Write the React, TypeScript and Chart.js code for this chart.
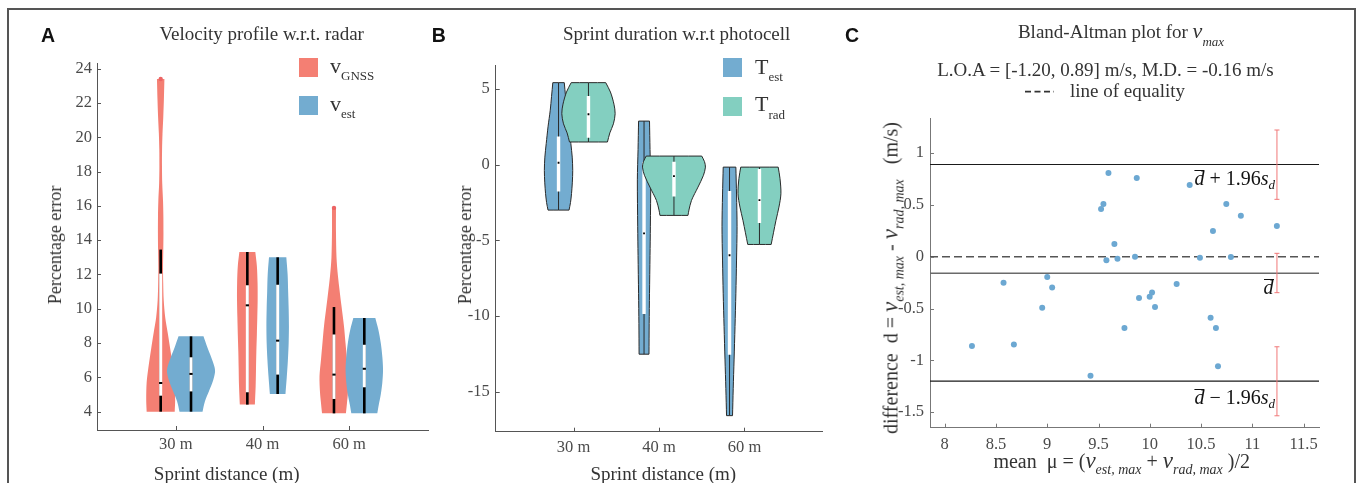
import React, { useEffect, useRef } from "react";
import { Chart, registerables } from "chart.js";

Chart.register(...registerables);

// ------------------------------------------------------------------ data
type Profile = [number, number][]; // [value, half-width in category units]
type Stats = [number, number, number, number, number]; // [low, q1, median, q3, high]

const distances = ["30 m", "40 m", "60 m"];
const categoryPositions = [1, 2, 3];
const violinOffset = 0.175;

// Panel A: velocity profile percentage error w.r.t. radar
const vGnssProfiles: Profile[] = [
  [[4.0, 0.162], [4.7, 0.167], [5.7, 0.162], [6.6, 0.141], [7.6, 0.112], [8.6, 0.081], [9.5, 0.052], [10.5, 0.035], [11.5, 0.029], [12.4, 0.027], [13.4, 0.03], [14.4, 0.032], [15.4, 0.031], [16.3, 0.027], [17.3, 0.018], [18.3, 0.015], [19.3, 0.016], [20.2, 0.021], [21.2, 0.03], [22.2, 0.037], [23.4, 0.043]],
  [[4.41, 0.087], [5.5, 0.096], [6.5, 0.1], [7.5, 0.104], [8.5, 0.11], [9.5, 0.115], [10.5, 0.119], [11.5, 0.118], [12.5, 0.11], [13.31, 0.092]],
  [[3.9, 0.138], [4.5, 0.15], [5.1, 0.161], [6.06, 0.167], [7.03, 0.15], [8.0, 0.133], [9.0, 0.115], [10.14, 0.087], [11.9, 0.046], [13.0, 0.029], [14.5, 0.023], [15.88, 0.023]],
];
const vGnssStats: Stats[] = [
  [4.0, 4.93, 5.67, 12.05, 13.45],
  [4.41, 5.13, 10.2, 11.37, 13.31],
  [3.9, 4.74, 6.16, 8.5, 10.1],
];
const vGnssOutliers: number[][] = [[23.4], [], [15.88]];

const vEstProfiles: Profile[] = [
  [[4.0, 0.133], [4.6, 0.161], [5.2, 0.208], [5.8, 0.254], [6.3, 0.277], [6.6, 0.271], [7.2, 0.231], [7.8, 0.185], [8.39, 0.144]],
  [[5.03, 0.09], [6.0, 0.105], [7.0, 0.118], [8.0, 0.127], [9.0, 0.13], [10.0, 0.127], [11.0, 0.121], [12.0, 0.115], [13.0, 0.1]],
  [[3.9, 0.15], [4.4, 0.167], [5.0, 0.19], [5.7, 0.208], [6.45, 0.216], [7.2, 0.208], [8.0, 0.19], [8.8, 0.161], [9.46, 0.127]],
];
const vEstStats: Stats[] = [
  [4.0, 5.18, 6.2, 7.17, 8.39],
  [5.03, 6.16, 8.14, 11.4, 13.0],
  [3.9, 5.42, 6.5, 7.9, 9.46],
];

// Panel B: sprint duration percentage error w.r.t. photocell
const tEstProfiles: Profile[] = [
  [[-3.0, 0.123], [-2.5, 0.14], [-1.9, 0.152], [-1.2, 0.161], [-0.38, 0.166], [0.5, 0.16], [1.4, 0.144], [2.5, 0.123], [3.6, 0.097], [4.5, 0.082], [5.42, 0.067]],
  [[-12.52, 0.058], [-10.5, 0.06], [-8.5, 0.064], [-6.0, 0.07], [-4.1, 0.074], [-1.0, 0.078], [1.0, 0.07], [2.88, 0.064]],
  [[-16.58, 0.035], [-14.8, 0.043], [-12.9, 0.053], [-10.7, 0.064], [-8.53, 0.074], [-6.3, 0.082], [-4.1, 0.088], [-2.0, 0.082], [-0.16, 0.074]],
];
const tEstStats: Stats[] = [
  [-3.0, -1.77, 0.13, 1.87, 5.42],
  [-12.52, -9.86, -4.54, 0.17, 2.88],
  [-16.58, -12.55, -5.98, -1.74, -0.16],
];
const tRadProfiles: Profile[] = [
  [[1.5, 0.222], [2.1, 0.25], [2.7, 0.292], [3.37, 0.312], [4.0, 0.298], [4.8, 0.257], [5.42, 0.202]],
  [[-3.35, 0.164], [-3.0, 0.175], [-2.36, 0.205], [-1.48, 0.281], [-0.7, 0.345], [-0.16, 0.368], [0.2, 0.357], [0.57, 0.325]],
  [[-5.27, 0.137], [-4.5, 0.164], [-3.68, 0.193], [-2.8, 0.228], [-1.92, 0.251], [-0.9, 0.24], [-0.16, 0.219]],
];
const tRadStats: Stats[] = [
  [1.5, 1.78, 3.33, 4.53, 5.42],
  [-3.35, -2.1, -0.75, 0.2, 0.57],
  [-5.27, -3.86, -2.34, -0.29, -0.16],
];

// Panel C: Bland-Altman for v_max
const baMean = [8.266, 8.574, 8.675, 8.951, 9.0, 9.048, 9.422, 9.525, 9.548, 9.577, 9.597, 9.655, 9.685, 9.753, 9.856, 9.873, 9.895, 9.999, 10.022, 10.051, 10.262, 10.389, 10.489, 10.593, 10.616, 10.645, 10.665, 10.746, 10.791, 10.888, 11.239];
const baDiff = [-0.862, -0.251, -0.846, -0.492, -0.196, -0.296, -1.149, 0.46, 0.509, -0.035, 0.808, 0.122, -0.019, -0.688, 0.0, 0.76, -0.399, -0.386, -0.344, -0.486, -0.264, 0.692, -0.01, -0.589, 0.248, -0.688, -1.058, 0.509, -0.003, 0.396, 0.296];
const meanDiff = -0.16;
const loaLower = -1.2;
const loaUpper = 0.89;
const ciX = 11.24;
const ciUpper = [0.554, 1.223];
const ciMean = [-0.347, 0.033];
const ciLower = [-1.535, -0.869];

// axes
const xRangeAB = [0.09, 3.91];
const yRangeA = [2.93, 24.33];
const yRangeB = [-17.64, 6.54];
const xRangeC = [7.857, 11.65];
const yRangeC = [-1.65, 1.336];
const yTicksA = [4, 6, 8, 10, 12, 14, 16, 18, 20, 22, 24];
const yTicksB = [-15, -10, -5, 0, 5];
const xTicksC = [8, 8.5, 9, 9.5, 10, 10.5, 11, 11.5];
const yTicksC = [-1.5, -1, -0.5, 0, 0.5, 1];

// ------------------------------------------------------------------ style
const SERIF = "'Liberation Serif', 'Times New Roman', Times, serif";
const SANS = "'Liberation Sans', Arial, Helvetica, sans-serif";
const TEXT = "#333333";
const TICK_TEXT = "#4a4a4a";
const RED = "rgb(244,127,115)";
const RED_DOT = "rgb(236,100,100)";
const BLUE = "rgb(115,172,208)";
const TEAL = "rgb(131,207,192)";
const DOT_BLUE = "rgb(108,168,210)";
const CI_RED = "rgb(240,120,120)";

// ------------------------------------------------------------------ helpers
function shape(center: number, profile: Profile) {
  const right = profile.map(([v, w]) => ({ x: center + w, y: v }));
  const left = [...profile].reverse().map(([v, w]) => ({ x: center - w, y: v }));
  return [...right, right[right.length - 1], left[0], ...left, left[left.length - 1], right[0]];
}

function violinGroup(center: number, profile: Profile, stats: Stats, outliers: number[], color: string, outlined: boolean) {
  const [lo, q1, med, q3, hi] = stats;
  const ds: any[] = [
    {
      data: shape(center, profile),
      backgroundColor: color,
      borderColor: outlined ? "#2a2a2a" : "rgba(0,0,0,0)",
      borderWidth: outlined ? 1 : 0,
      fill: "shape",
      tension: 0.3,
      pointRadius: 0,
    },
    {
      data: [{ x: center, y: lo }, { x: center, y: hi }],
      borderColor: outlined ? "#2a2a2a" : "#000",
      borderWidth: outlined ? 1 : 2.6,
      pointRadius: 0,
      fill: false,
    },
    {
      data: [{ x: center, y: q1 }, { x: center, y: q3 }],
      borderColor: "#fff",
      borderWidth: outlined ? 3.4 : 3,
      pointRadius: 0,
      fill: false,
    },
    {
      data: [{ x: center, y: med }],
      showLine: false,
      pointStyle: outlined ? "rect" : "line",
      pointRadius: outlined ? 1.3 : 1.6,
      pointBackgroundColor: "#000",
      pointBorderColor: "#000",
      pointBorderWidth: outlined ? 0 : 2,
    },
  ];
  if (outliers.length) {
    ds.push({
      data: outliers.map((v) => ({ x: center, y: v })),
      showLine: false,
      pointStyle: "circle",
      pointRadius: 2.2,
      pointBackgroundColor: RED_DOT,
      pointBorderWidth: 0,
    });
  }
  return ds;
}

function withOrder(ds: any[]) {
  return ds.map((d, i) => ({ ...d, order: ds.length - i }));
}

const inwardTicks = {
  id: "inwardTicks",
  afterDatasetsDraw(chart: any, _a: any, opts: any) {
    const { ctx, chartArea } = chart;
    const len = opts.length ?? 4;
    const xs = chart.scales.x;
    const ys = chart.scales.y;
    ctx.save();
    ctx.strokeStyle = opts.color ?? "#555";
    ctx.lineWidth = 1;
    ctx.beginPath();
    for (const t of ys.ticks) {
      const y = Math.round(ys.getPixelForValue(t.value)) + 0.5;
      ctx.moveTo(chartArea.left, y);
      ctx.lineTo(chartArea.left + len, y);
    }
    for (const t of xs.ticks) {
      const x = Math.round(xs.getPixelForValue(t.value)) + 0.5;
      ctx.moveTo(x, chartArea.bottom);
      ctx.lineTo(x, chartArea.bottom - len);
    }
    ctx.stroke();
    ctx.restore();
  },
};

const tickFont = { family: SERIF, size: 16.5 };

function makeOptions(p: {
  padding: { left: number; right: number; top: number; bottom: number };
  xRange: number[];
  yRange: number[];
  xTicks: number[];
  yTicks: number[];
  xLabel: (v: number) => string;
  axisColor: string;
  xPad: number;
  yPad: number;
}) {
  return {
    responsive: false,
    animation: false as const,
    devicePixelRatio: 1,
    events: [] as any[],
    layout: { padding: p.padding, autoPadding: false },
    elements: { point: { radius: 0, hoverRadius: 0 }, line: { tension: 0 } },
    plugins: {
      legend: { display: false },
      tooltip: { enabled: false },
      inwardTicks: { color: p.axisColor, length: 4 },
    },
    scales: {
      x: {
        type: "linear" as const,
        min: p.xRange[0],
        max: p.xRange[1],
        grid: { display: true, drawOnChartArea: false, drawTicks: false },
        border: { display: true, color: p.axisColor, width: 1 },
        ticks: {
          autoSkip: false,
          maxRotation: 0,
          padding: p.xPad,
          color: TICK_TEXT,
          font: tickFont,
          callback: (v: any) => p.xLabel(Number(v)),
        },
        afterBuildTicks: (s: any) => {
          s.ticks = p.xTicks.map((value) => ({ value }));
        },
        afterFit: (s: any) => {
          s.height = 30;
        },
      },
      y: {
        type: "linear" as const,
        min: p.yRange[0],
        max: p.yRange[1],
        grid: { display: true, drawOnChartArea: false, drawTicks: false },
        border: { display: true, color: p.axisColor, width: 1 },
        ticks: {
          padding: p.yPad,
          color: TICK_TEXT,
          font: tickFont,
          callback: (v: any) => String(v),
        },
        afterBuildTicks: (s: any) => {
          s.ticks = p.yTicks.map((value) => ({ value }));
        },
        afterFit: (s: any) => {
          s.width = 45;
        },
      },
    },
  };
}

const categoryLabel = (v: number) => {
  const i = categoryPositions.indexOf(v);
  return i >= 0 ? distances[i] : "";
};

function configA(): any {
  const ds: any[] = [];
  categoryPositions.forEach((c, i) => {
    ds.push(...violinGroup(c - violinOffset, vGnssProfiles[i], vGnssStats[i], vGnssOutliers[i], RED, false));
    ds.push(...violinGroup(c + violinOffset, vEstProfiles[i], vEstStats[i], [], BLUE, false));
  });
  return {
    type: "line",
    data: { datasets: withOrder(ds) },
    options: makeOptions({
      padding: { left: 52, right: 12, top: 63, bottom: 23 },
      xRange: xRangeAB,
      yRange: yRangeA,
      xTicks: categoryPositions,
      yTicks: yTicksA,
      xLabel: categoryLabel,
      axisColor: "#555",
      xPad: 5,
      yPad: 5,
    }),
    plugins: [inwardTicks],
  };
}

function configB(): any {
  const ds: any[] = [];
  categoryPositions.forEach((c, i) => {
    ds.push(...violinGroup(c - violinOffset, tEstProfiles[i], tEstStats[i], [], BLUE, true));
    ds.push(...violinGroup(c + violinOffset, tRadProfiles[i], tRadStats[i], [], TEAL, true));
  });
  return {
    type: "line",
    data: { datasets: withOrder(ds) },
    options: makeOptions({
      padding: { left: 10.7, right: 27.7, top: 65.7, bottom: 21.3 },
      xRange: xRangeAB,
      yRange: yRangeB,
      xTicks: categoryPositions,
      yTicks: yTicksB,
      xLabel: categoryLabel,
      axisColor: "#555",
      xPad: 6,
      yPad: 6,
    }),
    plugins: [inwardTicks],
  };
}

function hLine(y: number, color: string, width: number, dash: number[] = []) {
  return {
    data: [{ x: xRangeC[0], y }, { x: xRangeC[1], y }],
    borderColor: color,
    borderWidth: width,
    borderDash: dash,
    pointRadius: 0,
    fill: false,
  };
}

function ciBar(range: number[]) {
  return {
    data: [{ x: ciX, y: range[0] }, { x: ciX, y: range[1] }],
    borderColor: CI_RED,
    borderWidth: 1,
    pointStyle: "line",
    pointRadius: 2.5,
    pointBorderColor: CI_RED,
    pointBorderWidth: 1,
    fill: false,
  };
}

function configC(): any {
  const ds: any[] = [
    hLine(0, "#555", 1.4, [8, 4]),
    hLine(meanDiff, "#6a6a6a", 1.6),
    hLine(loaUpper, "#1a1a1a", 1.2),
    hLine(loaLower, "#1a1a1a", 1.2),
    {
      data: baMean.map((m, i) => ({ x: m, y: baDiff[i] })),
      showLine: false,
      pointStyle: "circle",
      pointRadius: 3,
      pointBackgroundColor: DOT_BLUE,
      pointBorderWidth: 0,
    },
    ciBar(ciUpper),
    ciBar(ciMean),
    ciBar(ciLower),
  ];
  return {
    type: "line",
    data: { datasets: withOrder(ds) },
    options: makeOptions({
      padding: { left: 35, right: 38, top: 118.3, bottom: 25.3 },
      xRange: xRangeC,
      yRange: yRangeC,
      xTicks: xTicksC,
      yTicks: yTicksC,
      xLabel: (v) => String(v),
      axisColor: "#777",
      xPad: 7,
      yPad: 6,
    }),
    plugins: [inwardTicks],
  };
}

// ------------------------------------------------------------------ text helpers
const center = (x: number, y: number, size: number, extra: any = {}): React.CSSProperties => ({
  position: "absolute",
  left: x,
  top: y,
  transform: "translate(-50%, -50%)",
  fontFamily: SERIF,
  fontSize: size,
  lineHeight: `${size}px`,
  color: TEXT,
  whiteSpace: "nowrap",
  ...extra,
});

const baseline = (x: number, base: number, size: number, extra: any = {}): React.CSSProperties => ({
  position: "absolute",
  left: x,
  top: base - 0.8375 * size,
  fontFamily: SERIF,
  fontSize: size,
  lineHeight: `${size}px`,
  color: TEXT,
  whiteSpace: "nowrap",
  ...extra,
});

const Sub = ({ children, size = 13, shift = 7, italic = false }: any) => (
  <span style={{ fontSize: size, position: "relative", top: shift, fontStyle: italic ? "italic" : "normal" }}>{children}</span>
);

const Dbar = () => (
  <span style={{ display: "inline-block", fontStyle: "italic", borderTop: "1.2px solid #111", lineHeight: "15px" }}>d</span>
);

const MathV = () => <span style={{ fontStyle: "italic", fontSize: 23 }}>v</span>;

const panelLabel = (x: number, text: string) => (
  <div
    style={{
      position: "absolute",
      left: x,
      top: 25.8,
      fontFamily: SANS,
      fontWeight: "bold",
      fontSize: 19.5,
      lineHeight: "19.5px",
      color: "#111",
    }}
  >
    {text}
  </div>
);

const square = (x: number, y: number, color: string) => (
  <div style={{ position: "absolute", left: x, top: y, width: 19, height: 19, background: color }} />
);

export default function App() {
  const aRef = useRef<HTMLCanvasElement>(null);
  const bRef = useRef<HTMLCanvasElement>(null);
  const cRef = useRef<HTMLCanvasElement>(null);

  useEffect(() => {
    const charts = [
      new Chart(aRef.current as HTMLCanvasElement, configA()),
      new Chart(bRef.current as HTMLCanvasElement, configB()),
      new Chart(cRef.current as HTMLCanvasElement, configC()),
    ];
    return () => charts.forEach((c) => c.destroy());
  }, []);

  return (
    <div style={{ position: "absolute", left: 0, top: 0, width: 1357, height: 483, overflow: "hidden", background: "#fff" }}>
      <div style={{ position: "absolute", left: 7, top: 8, width: 1349, height: 600, border: "2px solid #555", boxSizing: "border-box" }} />

      <canvas ref={aRef} width={440} height={483} style={{ position: "absolute", left: 0, top: 0, width: 440, height: 483 }} />
      <canvas ref={bRef} width={410} height={483} style={{ position: "absolute", left: 440, top: 0, width: 410, height: 483 }} />
      <canvas ref={cRef} width={507} height={483} style={{ position: "absolute", left: 850, top: 0, width: 507, height: 483 }} />

      {/* Panel A */}
      {panelLabel(41, "A")}
      <div style={center(261.7, 32.7, 19)}>Velocity profile w.r.t. radar</div>
      {square(299.3, 57.7, RED)}
      {square(299.3, 96, BLUE)}
      <div style={baseline(330, 73.3, 22)}>
        v<Sub shift={7.4}>GNSS</Sub>
      </div>
      <div style={baseline(330, 111.7, 22)}>
        v<Sub shift={6.8}>est</Sub>
      </div>
      <div style={center(55.3, 245, 18, { transform: "translate(-50%, -50%) rotate(-90deg)" })}>Percentage error</div>
      <div style={center(226.7, 472.5, 19)}>Sprint distance (m)</div>

      {/* Panel B */}
      {panelLabel(431.7, "B")}
      <div style={center(676.7, 33.3, 19)}>Sprint duration w.r.t photocell</div>
      {square(723.3, 58.3, BLUE)}
      {square(723.3, 96.5, TEAL)}
      <div style={baseline(755, 74, 22)}>
        T<Sub shift={7}>est</Sub>
      </div>
      <div style={baseline(755, 111.7, 22)}>
        T<Sub shift={8}>rad</Sub>
      </div>
      <div style={center(464.5, 245, 18, { transform: "translate(-50%, -50%) rotate(-90deg)" })}>Percentage error</div>
      <div style={center(663.3, 472.5, 19)}>Sprint distance (m)</div>

      {/* Panel C */}
      {panelLabel(845, "C")}
      <div style={center(1121, 32.2, 19)}>
        Bland-Altman plot for <span style={{ fontStyle: "italic", fontSize: 22 }}>v</span>
        <Sub size={13} shift={8} italic>
          max
        </Sub>
      </div>
      <div style={center(1105.5, 68.8, 19)}>L.O.A = [-1.20, 0.89] m/s, M.D. = -0.16 m/s</div>
      <svg style={{ position: "absolute", left: 1024, top: 88 }} width={32} height={8}>
        <line x1={1} y1={3.7} x2={30} y2={3.7} stroke="#333" strokeWidth={1.8} strokeDasharray="6 3.5" />
      </svg>
      <div style={baseline(1070, 97.3, 19)}>line of equality</div>

      <div style={baseline(1275, 185, 20, { transform: "translateX(-100%)", color: "#111" })}>
        <Dbar /> + 1.96<i>s</i>
        <Sub size={13} shift={4} italic>
          d
        </Sub>
      </div>
      <div style={baseline(1273.5, 293.3, 20, { transform: "translateX(-100%)", color: "#111" })}>
        <Dbar />
      </div>
      <div style={baseline(1275, 404, 20, { transform: "translateX(-100%)", color: "#111" })}>
        <Dbar /> − 1.96<i>s</i>
        <Sub size={13} shift={4} italic>
          d
        </Sub>
      </div>

      <div style={center(892.4, 278.3, 20, { transform: "translate(-50%, -50%) rotate(-90deg)" })}>
        difference{"\u00a0\u00a0"}d = <MathV />
        <Sub size={14} shift={6} italic>
          est, max
        </Sub>{" "}
        - <MathV />
        <Sub size={14} shift={6} italic>
          rad, max
        </Sub>
        {"\u00a0\u00a0\u00a0"}(m/s)
      </div>
      <div style={center(1121.7, 461.7, 20)}>
        mean{"\u00a0\u00a0"}μ = (<MathV />
        <Sub size={14} shift={6} italic>
          est, max
        </Sub>{" "}
        + <MathV />
        <Sub size={14} shift={6} italic>
          rad, max
        </Sub>
        {"\u00a0"})/2
      </div>
    </div>
  );
}
